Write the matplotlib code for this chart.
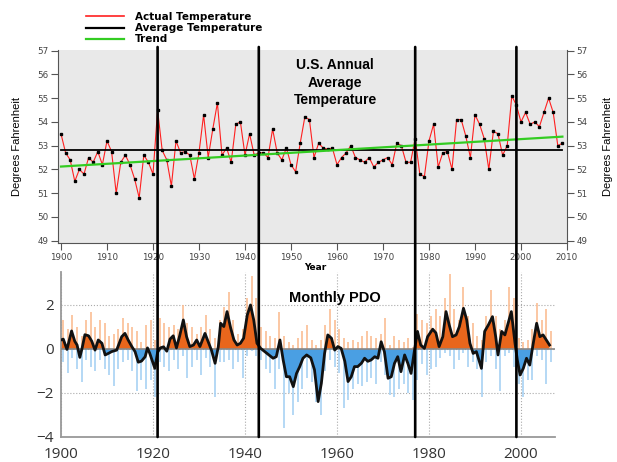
import numpy as np
import matplotlib
matplotlib.use("Agg")
import matplotlib.pyplot as plt
from matplotlib.lines import Line2D
from matplotlib.patches import ConnectionPatch

# US annual average temperature (deg F)
years = np.arange(1900, 2010)
temps = [53.5, 52.7, 52.4, 51.5, 52.0, 51.8, 52.5, 52.3, 52.75, 52.2,
         53.2, 52.75, 51.0, 52.3, 52.6, 52.2, 51.6, 50.8, 52.6, 52.3,
         51.8, 54.5, 52.8, 52.4, 51.3, 53.2, 52.7, 52.75, 52.6, 51.6,
         52.7, 54.3, 52.5, 53.7, 54.8, 52.6, 52.9, 52.3, 53.9, 54.0,
         52.6, 53.5, 52.6, 52.7, 52.7, 52.5, 53.7, 52.7, 52.4, 52.9,
         52.2, 51.9, 53.1, 54.2, 54.1, 52.5, 53.1, 52.9, 52.85, 52.9,
         52.2, 52.5, 52.7, 53.0, 52.5, 52.4, 52.3, 52.5, 52.1, 52.3,
         52.4, 52.5, 52.2, 53.1, 53.0, 52.3, 52.3, 53.3, 51.8, 51.7,
         53.2, 53.9, 52.1, 52.7, 52.75, 52.0, 54.1, 54.1, 53.4, 52.5,
         54.3, 53.9, 53.3, 52.0, 53.6, 53.5, 52.6, 53.0, 55.1, 54.7,
         54.0, 54.4, 53.9, 54.0, 53.8, 54.4, 55.0, 54.4, 53.0, 53.1]

# average line and linear trend as drawn on the chart
avg_temp = 52.8
trend_years = [1900, 2009]
trend_vals = [52.12, 53.38]

# PDO regime shifts (vertical lines)
shift_years = [1921, 1943, 1977, 1999]

# smoothed PDO index (black curve)
pdo_t = [1900.0, 1900.5, 1901.3, 1902.3, 1903.0, 1903.5, 1904.1, 1904.6, 1905.2, 1906.0,
         1906.7, 1907.4, 1908.1, 1908.9, 1909.6, 1910.3, 1911.0, 1912.1, 1913.2, 1913.9,
         1914.6, 1915.4, 1916.1, 1916.8, 1917.5, 1918.3, 1918.8, 1919.3, 1920.4, 1921.0,
         1921.6, 1922.3, 1923.0, 1923.7, 1924.4, 1925.1, 1925.8, 1926.6, 1927.3, 1928.0,
         1928.8, 1929.5, 1930.2, 1931.3, 1932.0, 1932.7, 1933.5, 1934.2, 1934.7, 1935.4,
         1936.1, 1936.9, 1937.6, 1938.3, 1939.0, 1939.7, 1940.5, 1941.2, 1941.9, 1942.6,
         1943.4, 1944.3, 1945.2, 1946.1, 1946.8, 1947.6, 1948.3, 1949.0, 1949.7, 1950.5,
         1951.2, 1951.9, 1952.6, 1953.4, 1954.3, 1955.1, 1955.9, 1956.6, 1957.3, 1958.0,
         1958.8, 1959.5, 1960.2, 1960.9, 1961.7, 1962.4, 1963.1, 1963.8, 1964.5, 1965.3,
         1966.0, 1966.7, 1967.4, 1968.2, 1968.9, 1969.6, 1970.3, 1971.1, 1971.8, 1972.5,
         1973.2, 1973.9, 1974.7, 1975.4, 1976.1, 1976.8, 1977.5, 1978.2, 1979.0, 1979.7,
         1980.8, 1981.5, 1982.2, 1983.0, 1983.7, 1984.4, 1985.1, 1985.9, 1986.6, 1987.5,
         1988.2, 1988.9, 1989.6, 1990.3, 1991.4, 1992.1, 1992.9, 1993.8, 1994.5, 1995.0,
         1995.8, 1996.5, 1997.2, 1997.9, 1998.7, 1999.2, 1999.8, 2000.5, 2001.2, 2001.9,
         2002.6, 2003.4, 2004.1, 2004.8, 2005.5, 2006.2]
pdo_s = [0.41, 0.45, -0.02, 0.82, 0.35, 0.18, -0.38, 0.05, 0.65, 0.60,
         0.35, -0.05, 0.41, 0.26, -0.27, -0.20, -0.12, -0.05, 0.56, 0.71,
         0.41, 0.11, -0.12, -0.60, -0.55, -0.35, 0.05, -0.20, -0.88, -0.15,
         0.05, 0.10, -0.10, 0.45, 0.60, 0.05, 0.60, 1.32, 0.56, 0.11,
         0.18, 0.41, 0.11, 0.71, 0.33, -0.05, -0.65, 0.11, 1.17, 1.02,
         1.70, 0.94, 0.41, 0.18, 0.26, 0.49, 1.55, 2.00, 1.32, 0.26,
         0.03, -0.12, -0.27, -0.42, -0.35, 0.41, -0.50, -1.26, -1.26, -1.71,
         -1.11, -0.80, -0.42, -0.27, -0.40, -0.94, -2.39, -1.56, -0.20, 0.64,
         0.49, -0.05, 0.11, 0.03, -0.56, -1.48, -1.26, -0.80, -0.80, -0.65,
         -0.42, -0.56, -0.50, -0.35, -0.42, 0.33, -0.12, -1.33, -1.26, -0.65,
         -0.35, -1.03, -0.27, -0.65, -1.11, -0.12, 0.80, 0.18, 0.03, 0.56,
         0.90, 0.73, 0.11, 0.56, 1.70, 1.09, 0.56, 0.64, 1.02, 1.85,
         1.32, 0.26, -0.20, -0.12, -0.88, 0.80, 1.09, 1.47, 0.56, -0.27,
         0.80, 0.64, 1.17, 1.70, 0.26, -0.50, -1.18, -0.88, -0.42, -0.73,
         0.18, 1.17, 0.56, 0.64, 0.41, 0.18]

# yearly extremes of the monthly PDO bars
spike_years = np.arange(1900, 2007)
spike_hi = [1.3, 0.9, 1.55, 1.0, 0.6, 1.3, 1.7, 1.0, 1.3, 1.2,
            0.6, 0.7, 0.9, 1.4, 1.2, 1.0, 0.8, 0.3, 1.1, 1.3,
            0.4, 1.4, 1.2, 1.0, 1.1, 0.9, 2.0, 1.2, 1.0, 0.7,
            1.0, 1.55, 0.9, 0.5, 1.3, 1.9, 2.6, 1.3, 0.7, 0.9,
            2.3, 3.3, 2.3, 1.0, 0.8, 0.6, 0.5, 1.7, 0.6, 0.3,
            0.2, 0.5, 0.8, 1.1, 0.4, 0.2, 0.4, 1.1, 1.8, 1.3,
            0.9, 0.5, 0.3, 0.4, 0.3, 0.6, 0.8, 0.6, 0.5, 0.7,
            1.4, 0.2, 0.6, 0.4, 0.3, 0.5, 0.1, 1.6, 1.3, 1.2,
            1.5, 1.8, 1.5, 2.3, 3.4, 1.8, 1.3, 2.8, 1.5, 1.2,
            0.6, 0.4, 1.5, 2.7, 1.5, 0.9, 1.3, 2.8, 2.3, 0.5,
            0.3, 0.4, 0.9, 2.1, 1.3, 1.8, 0.8]
spike_lo = [-0.6, -1.1, -0.4, -0.9, -1.5, -0.5, -0.8, -1.0, -0.5, -0.9,
            -1.2, -1.7, -0.9, -0.6, -0.5, -1.0, -1.9, -1.4, -1.8, -1.4,
            -2.2, -0.6, -0.8, -1.0, -0.5, -0.9, -0.3, -1.3, -0.8, -0.5,
            -1.2, -0.4, -0.8, -2.2, -0.6, -0.6, -0.5, -0.9, -0.6, -1.3,
            -0.3, -0.1, -0.3, -0.5, -0.9, -1.1, -1.8, -0.9, -3.6, -2.0,
            -3.0, -2.4, -1.8, -1.3, -1.5, -2.4, -3.0, -1.0, -0.5, -0.8,
            -1.1, -2.7, -2.3, -1.8, -1.6, -1.7, -1.5, -1.3, -1.6, -0.6,
            -1.2, -2.1, -2.2, -1.8, -1.6, -2.0, -2.3, -1.4, -0.7, -1.2,
            -0.9, -0.8, -0.4, -0.2, -0.3, -0.9, -0.5, -0.2, -0.8, -0.6,
            -0.9, -2.2, -0.6, -0.3, -0.9, -1.9, -0.3, -0.2, -0.8, -1.6,
            -2.2, -1.4, -1.4, -0.3, -0.5, -1.6, -0.6]

W, H = 617, 462
fig = plt.figure(figsize=(W / 100, H / 100), dpi=100)

# top panel: 1899.35..2010 over pixels 58..567; bottom panel shares the scale
x_lo, x_hi = 1899.35, 2010
px_per_yr = (567 - 58) / (x_hi - x_lo)
ax1 = fig.add_axes([58 / W, 1 - 243 / H, (567 - 58) / W, (243 - 49.5) / H])
b_lo, b_hi = 1900, 2007.3
bl = 58 + (b_lo - x_lo) * px_per_yr
br = 58 + (b_hi - x_lo) * px_per_yr
ax2 = fig.add_axes([bl / W, 1 - 437 / H, (br - bl) / W, (437 - 272) / H])

# ---- temperature panel ----
ax1.set_facecolor('#e9e9e9')
ax1.plot(years, temps, color='#ff2020', lw=0.8, marker='s', ms=1.6,
         mfc='black', mec='black', zorder=3)
ax1.plot([years[0], years[-1]], [avg_temp, avg_temp], color='black', lw=1.3, zorder=4)
ax1.plot(trend_years, trend_vals, color='#33cc22', lw=1.6, zorder=5)
ax1.set_xlim(x_lo, x_hi)
ax1.set_ylim(48.9, 57.05)
ax1.set_xticks(range(1900, 2011, 10))
ax1.set_yticks(range(49, 58))
ax1.tick_params(labelsize=6.3, labelcolor='#444', color='#555', length=5,
                width=0.8, pad=2)
ax1.tick_params(axis='y', right=True, labelright=True)
ax1.spines['top'].set_visible(False)
for side in ['left', 'right', 'bottom']:
    ax1.spines[side].set_color('#555')
    ax1.spines[side].set_linewidth(0.8)

narrow = ['Liberation Sans Narrow', 'Liberation Sans']
fig.text(17 / W, 1 - 146 / H, 'Degrees Fahrenheit', rotation=90, ha='center',
         va='center', fontsize=8, family=narrow)
fig.text(608 / W, 1 - 147 / H, 'Degrees Fahrenheit', rotation=90, ha='center',
         va='center', fontsize=8, family=narrow)
fig.text(315 / W, 1 - 267 / H, 'Year', ha='center', va='center', fontsize=6.5,
         fontweight='bold')
fig.text(335 / W, 1 - 82.5 / H, 'U.S. Annual\nAverage\nTemperature', ha='center',
         va='center', fontsize=10, fontweight='bold', family='Liberation Sans',
         linespacing=1.3)

handles = [Line2D([], [], color='#ff2020', lw=1.2),
           Line2D([], [], color='black', lw=1.6),
           Line2D([], [], color='#33cc22', lw=1.6)]
fig.legend(handles, ['Actual Temperature', 'Average Temperature', 'Trend'],
           loc='upper left', bbox_to_anchor=(86 / W, 1 - 12 / H), frameon=False,
           prop={'weight': 'bold', 'size': 7.5}, handlelength=3.6,
           handletextpad=1.1, labelspacing=0.12, borderpad=0, borderaxespad=0)

# ---- PDO panel ----
t = np.array(pdo_t)
s = np.array(pdo_s)
ax2.vlines(spike_years + 0.5, 0, spike_hi, color='#fbbd93', lw=1.2, zorder=1)
ax2.vlines(spike_years + 0.5, spike_lo, 0, color='#a8d2f4', lw=1.2, zorder=1)
ax2.fill_between(t, 0, s, where=s >= 0, interpolate=True, color='#e9661c',
                 lw=0, zorder=2)
ax2.fill_between(t, 0, s, where=s <= 0, interpolate=True, color='#4a9fe3',
                 lw=0, zorder=2)
ax2.axhline(0, color='#888', lw=1.2, zorder=3)
ax2.plot(t, s, color='#111', lw=2.0, zorder=4)
ax2.set_xlim(b_lo, b_hi)
ax2.set_ylim(-4, 3.5)
ax2.set_xticks(range(1900, 2001, 20))
ax2.set_yticks([-4, -2, 0, 2])
ax2.grid(True, ls=':', color='#aaa', lw=0.8, zorder=0)
ax2.set_axisbelow(True)
ax2.tick_params(length=0, labelsize=11, labelcolor='#333')
ax2.tick_params(axis='x', pad=7)
ax2.tick_params(axis='y', pad=5)
for lab in ax2.get_xticklabels() + ax2.get_yticklabels():
    lab.set_family('Open Sans')
for side in ['top', 'right']:
    ax2.spines[side].set_visible(False)
for side in ['left', 'bottom']:
    ax2.spines[side].set_color('#999')
    ax2.spines[side].set_linewidth(1.3)

fig.text(335 / W, 1 - 298 / H, 'Monthly PDO', ha='center', va='center',
         fontsize=10.5, fontweight='bold', family='Liberation Sans')

# regime shift lines running through both panels
for yr in shift_years:
    con = ConnectionPatch(xyA=(yr, 1.013), coordsA=ax1.get_xaxis_transform(),
                          xyB=(yr, 0), coordsB=ax2.get_xaxis_transform(),
                          color='black', lw=1.9)
    fig.add_artist(con)

fig.savefig('out.png', dpi=100)
